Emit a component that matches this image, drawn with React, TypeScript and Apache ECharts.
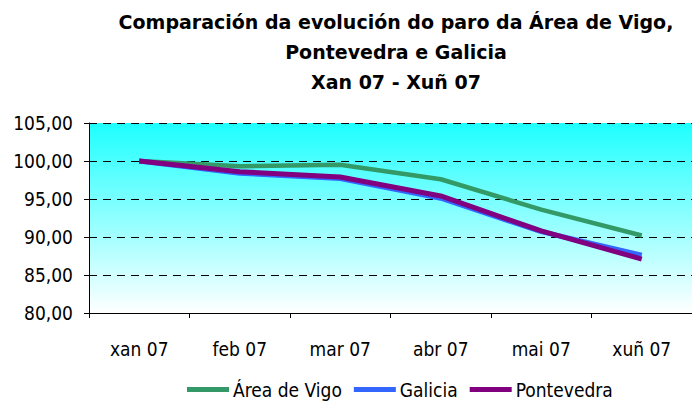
import React, { useEffect, useRef } from "react";
import * as echarts from "echarts";

const categories = ["xan 07", "feb 07", "mar 07", "abr 07", "mai 07", "xuñ 07"];
const areaVigo = [100, 99.3, 99.5, 97.6, 93.6, 90.2];
const galicia = [100, 98.4, 97.7, 95.1, 90.7, 87.6];
const pontevedra = [100, 98.6, 97.9, 95.4, 90.8, 87.1];
const titleLines = [
  "Comparación da evolución do paro da Área de Vigo,",
  "Pontevedra e Galicia",
  "Xan 07 - Xuñ 07",
];

const FONT = "'DejaVu Sans Condensed', 'DejaVu Sans'";
const TITLE_FONT = "'DejaVu Sans'";

export default function App() {
  const ref = useRef<HTMLDivElement>(null);
  useEffect(() => {
    if (!ref.current) return;
    const chart = echarts.init(ref.current, undefined, { renderer: "svg" });
    chart.setOption({
      animation: false,
      backgroundColor: "#ffffff",
      graphic: [
        {
          type: "text",
          x: 396,
          y: 7,
          style: {
            text: titleLines.join("\n"),
            textAlign: "center",
            fontFamily: TITLE_FONT,
            fontWeight: "bold",
            fontSize: 19,
            lineHeight: 30,
            fill: "#000",
          },
        },
      ],
      legend: {
        top: 375,
        left: 182,
        itemWidth: 42,
        itemHeight: 5,
        itemGap: 12,
        icon: "rect",
        textStyle: { fontFamily: FONT, fontSize: 19, color: "#000", padding: [0, 0, 0, -1] },
        data: ["Área de Vigo", "Galicia", "Pontevedra"],
      },
      grid: {
        left: 89,
        top: 123,
        right: -5,
        bottom: 90,
        show: true,
        borderWidth: 0,
        backgroundColor: new echarts.graphic.LinearGradient(0, 0, 0, 1, [
          { offset: 0, color: "#1effff" },
          { offset: 1, color: "#ffffff" },
        ]),
      },
      xAxis: {
        type: "category",
        data: categories,
        boundaryGap: true,
        axisLine: { lineStyle: { color: "#000", width: 1 } },
        axisTick: { show: true, length: 5, alignWithLabel: false, lineStyle: { color: "#000" } },
        axisLabel: { color: "#000", fontFamily: FONT, fontSize: 19, margin: 26 },
        splitLine: { show: false },
      },
      yAxis: {
        type: "value",
        min: 80,
        max: 105,
        interval: 5,
        axisLine: { show: true, lineStyle: { color: "#000", width: 1 } },
        axisTick: { show: true, length: 5, lineStyle: { color: "#000" } },
        axisLabel: {
          color: "#000",
          fontFamily: FONT,
          fontSize: 19,
          margin: 16,
          formatter: (v: number) => v.toFixed(2).replace(".", ","),
        },
        splitLine: {
          show: true,
          showMinLine: false,
          lineStyle: {
            type: [8, 6],
            width: 1,
            color: ["#000", "#000", "#000", "#000", "#000", "#808080"],
          },
        },
      },
      series: [
        {
          name: "Área de Vigo",
          type: "line",
          data: areaVigo,
          color: "#339966",
          symbol: "none",
          lineStyle: { width: 4.5, color: "#339966" },
        },
        {
          name: "Galicia",
          type: "line",
          data: galicia,
          color: "#3366ff",
          symbol: "none",
          lineStyle: { width: 5, color: "#3366ff" },
        },
        {
          name: "Pontevedra",
          type: "line",
          data: pontevedra,
          color: "#800080",
          symbol: "none",
          lineStyle: { width: 5, color: "#800080" },
        },
      ],
    });
    return () => chart.dispose();
  }, []);
  return (
    <div
      ref={ref}
      style={{ position: "absolute", left: 0, top: 0, width: 692, height: 403 }}
    />
  );
}
